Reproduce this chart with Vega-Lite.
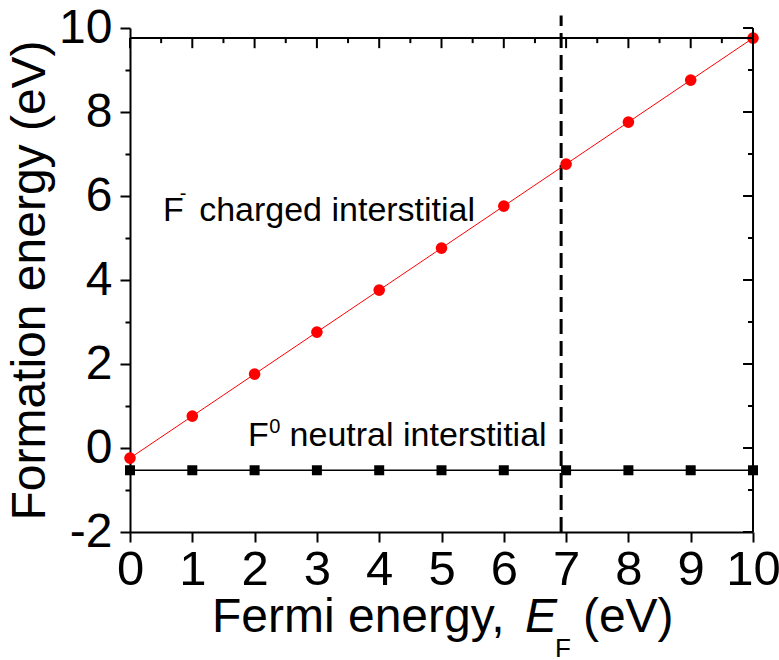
{
  "$schema": "https://vega.github.io/schema/vega-lite/v6.json",
  "autosize": {"type": "none"},
  "padding": {"left": 130, "top": 28, "right": 26, "bottom": 128},
  "width": 623,
  "height": 504,
  "background": "white",
  "config": {
    "view": {"stroke": null},
    "font": "Liberation Sans",
    "axis": {"grid": false, "domainColor": "black", "domainWidth": 2, "tickColor": "black", "tickWidth": 2, "labelColor": "black", "labelFont": "Liberation Sans", "labelFlush": false, "labelOverlap": false, "labelBound": false}
  },
  "datasets": {
    "formation": [
      {"Ef": 0, "E": -0.24, "defect": "charged"},
      {"Ef": 1, "E": 0.76, "defect": "charged"},
      {"Ef": 2, "E": 1.76, "defect": "charged"},
      {"Ef": 3, "E": 2.76, "defect": "charged"},
      {"Ef": 4, "E": 3.76, "defect": "charged"},
      {"Ef": 5, "E": 4.76, "defect": "charged"},
      {"Ef": 6, "E": 5.76, "defect": "charged"},
      {"Ef": 7, "E": 6.76, "defect": "charged"},
      {"Ef": 8, "E": 7.76, "defect": "charged"},
      {"Ef": 9, "E": 8.76, "defect": "charged"},
      {"Ef": 10, "E": 9.76, "defect": "charged"},
      {"Ef": 0, "E": -0.53, "defect": "neutral"},
      {"Ef": 1, "E": -0.53, "defect": "neutral"},
      {"Ef": 2, "E": -0.53, "defect": "neutral"},
      {"Ef": 3, "E": -0.53, "defect": "neutral"},
      {"Ef": 4, "E": -0.53, "defect": "neutral"},
      {"Ef": 5, "E": -0.53, "defect": "neutral"},
      {"Ef": 6, "E": -0.53, "defect": "neutral"},
      {"Ef": 7, "E": -0.53, "defect": "neutral"},
      {"Ef": 8, "E": -0.53, "defect": "neutral"},
      {"Ef": 9, "E": -0.53, "defect": "neutral"},
      {"Ef": 10, "E": -0.53, "defect": "neutral"}
    ],
    "xmajor": [{"v": 0}, {"v": 1}, {"v": 2}, {"v": 3}, {"v": 4}, {"v": 5}, {"v": 6}, {"v": 7}, {"v": 8}, {"v": 9}, {"v": 10}],
    "xminor": [{"v": 0.5}, {"v": 1.5}, {"v": 2.5}, {"v": 3.5}, {"v": 4.5}, {"v": 5.5}, {"v": 6.5}, {"v": 7.5}, {"v": 8.5}, {"v": 9.5}],
    "ymajor": [{"v": -2}, {"v": 0}, {"v": 2}, {"v": 4}, {"v": 6}, {"v": 8}, {"v": 10}],
    "yminor": [{"v": -1}, {"v": 1}, {"v": 3}, {"v": 5}, {"v": 7}, {"v": 9}],
    "labels": [
      {"x": 0.53, "y": 5.40, "text": "F"},
      {"x": 1.11, "y": 5.40, "text": "charged interstitial"},
      {"x": 1.894, "y": 0.048, "text": "F"},
      {"x": 2.562, "y": 0.048, "text": "neutral interstitial"}
    ],
    "sups": [
      {"x": 0.80, "y": 5.905, "text": "-"},
      {"x": 2.235, "y": 0.357, "text": "0"}
    ],
    "xtitle": [
      {"x": 1.316, "y": -4.38, "text": "Fermi energy,"},
      {"x": 7.27, "y": -4.38, "text": "(eV)"}
    ],
    "xtitleE": [{"x": 6.34, "y": -4.38, "text": "E"}],
    "xtitleSub": [{"x": 6.82, "y": -4.97, "text": "F"}],
    "dashed": [{"x": 6.92, "y1": -2, "y2": 10.3}]
  },
  "layer": [
    {
      "data": {"name": "dashed"},
      "mark": {"type": "rule", "color": "black", "strokeWidth": 3, "strokeDash": [15, 7]},
      "encoding": {
        "x": {"field": "x", "type": "quantitative", "scale": {"domain": [0, 10], "nice": false, "zero": false},
          "axis": {"values": [0, 0.5, 1, 1.5, 2, 2.5, 3, 3.5, 4, 4.5, 5, 5.5, 6, 6.5, 7, 7.5, 8, 8.5, 9, 9.5, 10],
            "labelExpr": "datum.value % 1 === 0 ? '' + datum.value : ''",
            "tickSize": {"condition": {"test": "datum.value % 1 === 0", "value": 10}, "value": 5},
            "labelFontSize": 49, "labelPadding": 3, "title": null}},
        "y": {"field": "y1", "type": "quantitative", "scale": {"domain": [-2, 10], "nice": false, "zero": false},
          "axis": {"values": [-2, -1, 0, 1, 2, 3, 4, 5, 6, 7, 8, 9, 10],
            "labelExpr": "datum.value % 2 === 0 ? '' + datum.value : ''",
            "tickSize": {"condition": {"test": "datum.value % 2 === 0", "value": 10}, "value": 5},
            "labelFontSize": 48, "labelPadding": 8,
            "title": "Formation energy (eV)", "titleFontSize": 48, "titleFontWeight": "normal", "titleFont": "Liberation Sans", "titleColor": "black", "titlePadding": 4}},
        "y2": {"field": "y2"}
      }
    },
    {
      "data": {"name": "formation"},
      "transform": [{"filter": "datum.defect === 'charged'"}],
      "mark": {"type": "line", "color": "#ff0000", "strokeWidth": 1},
      "encoding": {"x": {"field": "Ef", "type": "quantitative"}, "y": {"field": "E", "type": "quantitative"}}
    },
    {
      "data": {"name": "formation"},
      "transform": [{"filter": "datum.defect === 'charged'"}],
      "mark": {"type": "point", "shape": "circle", "filled": true, "color": "#ff0000", "opacity": 1, "size": 135},
      "encoding": {"x": {"field": "Ef", "type": "quantitative"}, "y": {"field": "E", "type": "quantitative"}}
    },
    {
      "data": {"name": "formation"},
      "transform": [{"filter": "datum.defect === 'neutral'"}],
      "mark": {"type": "line", "color": "black", "strokeWidth": 1.5},
      "encoding": {"x": {"field": "Ef", "type": "quantitative"}, "y": {"field": "E", "type": "quantitative"}}
    },
    {
      "data": {"name": "formation"},
      "transform": [{"filter": "datum.defect === 'neutral'"}],
      "mark": {"type": "point", "shape": "square", "filled": true, "color": "black", "opacity": 1, "size": 100},
      "encoding": {"x": {"field": "Ef", "type": "quantitative"}, "y": {"field": "E", "type": "quantitative"}}
    },
    {
      "data": {"values": [{}]},
      "mark": {"type": "rule", "color": "black", "strokeWidth": 2},
      "encoding": {"x": {"datum": 0}, "x2": {"datum": 10}, "y": {"datum": 9.76}}
    },
    {
      "data": {"values": [{}]},
      "mark": {"type": "rule", "color": "black", "strokeWidth": 2},
      "encoding": {"x": {"datum": 10}, "y": {"datum": -2}, "y2": {"datum": 10}}
    },
    {
      "data": {"name": "xmajor"},
      "mark": {"type": "rule", "color": "black", "strokeWidth": 2},
      "encoding": {"x": {"field": "v", "type": "quantitative"}, "y": {"datum": 9.76}, "y2": {"datum": 9.52}}
    },
    {
      "data": {"name": "xminor"},
      "mark": {"type": "rule", "color": "black", "strokeWidth": 2},
      "encoding": {"x": {"field": "v", "type": "quantitative"}, "y": {"datum": 9.76}, "y2": {"datum": 9.64}}
    },
    {
      "data": {"name": "ymajor"},
      "mark": {"type": "rule", "color": "black", "strokeWidth": 2},
      "encoding": {"y": {"field": "v", "type": "quantitative"}, "x": {"datum": 10}, "x2": {"datum": 9.84}}
    },
    {
      "data": {"name": "yminor"},
      "mark": {"type": "rule", "color": "black", "strokeWidth": 2},
      "encoding": {"y": {"field": "v", "type": "quantitative"}, "x": {"datum": 10}, "x2": {"datum": 9.92}}
    },
    {
      "data": {"name": "labels"},
      "mark": {"type": "text", "align": "left", "baseline": "alphabetic", "fontSize": 34, "font": "Liberation Sans", "color": "black"},
      "encoding": {"x": {"field": "x", "type": "quantitative"}, "y": {"field": "y", "type": "quantitative"}, "text": {"field": "text"}}
    },
    {
      "data": {"name": "sups"},
      "mark": {"type": "text", "align": "left", "baseline": "alphabetic", "fontSize": 20, "font": "Liberation Sans", "color": "black"},
      "encoding": {"x": {"field": "x", "type": "quantitative"}, "y": {"field": "y", "type": "quantitative"}, "text": {"field": "text"}}
    },
    {
      "data": {"name": "xtitle"},
      "mark": {"type": "text", "align": "left", "baseline": "alphabetic", "fontSize": 48, "font": "Liberation Sans", "color": "black"},
      "encoding": {"x": {"field": "x", "type": "quantitative"}, "y": {"field": "y", "type": "quantitative"}, "text": {"field": "text"}}
    },
    {
      "data": {"name": "xtitleE"},
      "mark": {"type": "text", "align": "left", "baseline": "alphabetic", "fontSize": 48, "fontStyle": "italic", "font": "Liberation Sans", "color": "black"},
      "encoding": {"x": {"field": "x", "type": "quantitative"}, "y": {"field": "y", "type": "quantitative"}, "text": {"field": "text"}}
    },
    {
      "data": {"name": "xtitleSub"},
      "mark": {"type": "text", "align": "left", "baseline": "alphabetic", "fontSize": 26, "font": "Liberation Sans", "color": "black"},
      "encoding": {"x": {"field": "x", "type": "quantitative"}, "y": {"field": "y", "type": "quantitative"}, "text": {"field": "text"}}
    }
  ]
}
